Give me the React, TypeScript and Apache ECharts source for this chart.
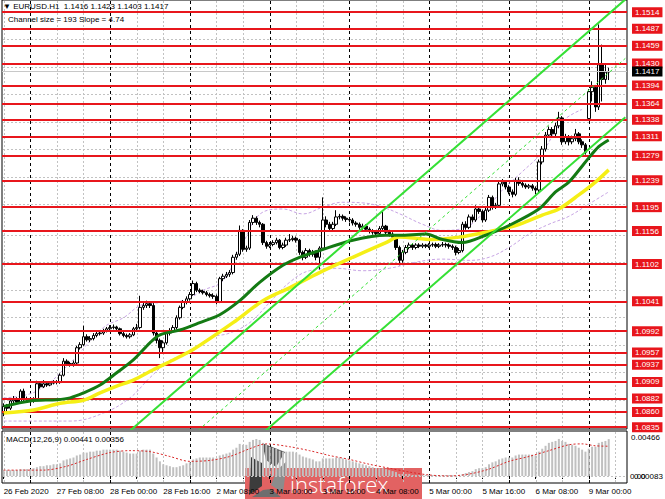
import React, { useEffect, useRef } from "react";
import * as echarts from "echarts";

const FONT = '"Liberation Sans", Arial, sans-serif';
const RED = "#e8161c";

// ---- categories (H1 bars) ----
const DAYS = ["26 Feb", "27 Feb", "28 Feb", "2 Mar", "3 Mar", "4 Mar", "5 Mar", "6 Mar", "9 Mar"];
const categories: string[] = [];
DAYS.forEach((d, di) => {
  const start = di === 0 ? 16 : 0;
  const end = di === DAYS.length - 1 ? 12 : 24;
  for (let h = start; h < end; h++) categories.push(`${d} ${String(h).padStart(2, "0")}:00`);
});

// ---- candles ----
const opens = [
  1.0858, 1.0869, 1.0866, 1.0878, 1.0881, 1.0876, 1.0894, 1.0881, 1.0880, 1.0878,
  1.0881, 1.0906, 1.0901, 1.0906, 1.0904, 1.0907, 1.0909, 1.0908, 1.0920, 1.0943,
  1.0939, 1.0937, 1.0940, 1.0965, 1.0970, 1.0983, 1.0978, 1.0980, 1.0985, 1.0988,
  1.0989, 1.0993, 1.0996, 1.0998, 1.0999, 1.0996, 1.0988, 1.0985, 1.0983, 1.0986,
  1.0996, 1.0998, 1.1031, 1.1034, 1.1037, 1.1034, 1.0989, 1.0977, 1.0965, 1.0973,
  1.0989, 1.0993, 1.0998, 1.1014, 1.1031, 1.1039, 1.1045, 1.1052, 1.1070, 1.1059,
  1.1057, 1.1055, 1.1052, 1.1050, 1.1049, 1.1040, 1.1078, 1.1082, 1.1085, 1.1088,
  1.1113, 1.1118, 1.1157, 1.1126, 1.1128, 1.1170, 1.1177, 1.1170, 1.1167, 1.1137,
  1.1131, 1.1134, 1.1137, 1.1141, 1.1129, 1.1133, 1.1141, 1.1142, 1.1144, 1.1141,
  1.1121, 1.1113, 1.1124, 1.1118, 1.1121, 1.1113, 1.1128, 1.1174, 1.1167, 1.1160,
  1.1167, 1.1179, 1.1180, 1.1177, 1.1175, 1.1174, 1.1169, 1.1167, 1.1162, 1.1164,
  1.1159, 1.1156, 1.1154, 1.1152, 1.1160, 1.1164, 1.1154, 1.1151, 1.1146, 1.1129,
  1.1108, 1.1121, 1.1129, 1.1133, 1.1129, 1.1133, 1.1131, 1.1133, 1.1131, 1.1133,
  1.1134, 1.1131, 1.1133, 1.1134, 1.1133, 1.1131, 1.1129, 1.1121, 1.1124, 1.1167,
  1.1162, 1.1179, 1.1174, 1.1192, 1.1188, 1.1174, 1.1190, 1.1211, 1.1195, 1.1198,
  1.1233, 1.1236, 1.1228, 1.1220, 1.1216, 1.1239, 1.1234, 1.1231, 1.1228, 1.1230,
  1.1226, 1.1223, 1.1269, 1.1290, 1.1313, 1.1322, 1.1315, 1.1328, 1.1341, 1.1302,
  1.1310, 1.1302, 1.1307, 1.1315, 1.1302, 1.1297, 1.1340, 1.1384, 1.1391, 1.1359,
  1.1428, 1.1404, 1.1416,
];
const closes = [
  1.0869, 1.0866, 1.0878, 1.0881, 1.0876, 1.0894, 1.0881, 1.0880, 1.0878, 1.0881,
  1.0906, 1.0901, 1.0906, 1.0904, 1.0907, 1.0909, 1.0908, 1.0920, 1.0943, 1.0939,
  1.0937, 1.0940, 1.0965, 1.0970, 1.0983, 1.0978, 1.0980, 1.0985, 1.0988, 1.0989,
  1.0993, 1.0996, 1.0998, 1.0999, 1.0996, 1.0988, 1.0985, 1.0983, 1.0986, 1.0996,
  1.0998, 1.1031, 1.1034, 1.1037, 1.1034, 1.0989, 1.0977, 1.0965, 1.0973, 1.0989,
  1.0993, 1.0998, 1.1014, 1.1031, 1.1039, 1.1045, 1.1052, 1.1070, 1.1059, 1.1057,
  1.1055, 1.1052, 1.1050, 1.1049, 1.1040, 1.1078, 1.1082, 1.1085, 1.1088, 1.1113,
  1.1118, 1.1157, 1.1126, 1.1128, 1.1170, 1.1177, 1.1170, 1.1167, 1.1137, 1.1131,
  1.1134, 1.1137, 1.1141, 1.1129, 1.1133, 1.1141, 1.1142, 1.1144, 1.1141, 1.1121,
  1.1113, 1.1124, 1.1118, 1.1121, 1.1113, 1.1128, 1.1174, 1.1167, 1.1160, 1.1167,
  1.1179, 1.1180, 1.1177, 1.1175, 1.1174, 1.1169, 1.1167, 1.1162, 1.1164, 1.1159,
  1.1156, 1.1154, 1.1152, 1.1160, 1.1164, 1.1154, 1.1151, 1.1146, 1.1129, 1.1108,
  1.1121, 1.1129, 1.1133, 1.1129, 1.1133, 1.1131, 1.1133, 1.1131, 1.1133, 1.1134,
  1.1131, 1.1133, 1.1134, 1.1133, 1.1131, 1.1129, 1.1121, 1.1124, 1.1167, 1.1162,
  1.1179, 1.1174, 1.1192, 1.1188, 1.1174, 1.1190, 1.1211, 1.1195, 1.1198, 1.1233,
  1.1236, 1.1228, 1.1220, 1.1216, 1.1239, 1.1234, 1.1231, 1.1228, 1.1230, 1.1226,
  1.1223, 1.1269, 1.1290, 1.1313, 1.1322, 1.1315, 1.1328, 1.1341, 1.1302, 1.1310,
  1.1302, 1.1307, 1.1315, 1.1302, 1.1297, 1.1285, 1.1384, 1.1391, 1.1359, 1.1428,
  1.1404, 1.1416, 1.1417,
];
const highs = [
  1.0874, 1.0873, 1.0882, 1.0886, 1.0884, 1.0897, 1.0898, 1.0885, 1.0884, 1.0884,
  1.0911, 1.0909, 1.0912, 1.0909, 1.0910, 1.0912, 1.0912, 1.0923, 1.0948, 1.0946,
  1.0942, 1.0944, 1.0968, 1.0974, 1.1001, 1.0987, 1.0984, 1.0989, 1.0991, 1.0993,
  1.0996, 1.0999, 1.1002, 1.1003, 1.1001, 1.0998, 1.0991, 1.0988, 1.0989, 1.0999,
  1.1004, 1.1050, 1.1040, 1.1042, 1.1041, 1.1038, 1.0993, 1.0980, 1.0977, 1.0992,
  1.0997, 1.1002, 1.1018, 1.1034, 1.1043, 1.1049, 1.1056, 1.1075, 1.1073, 1.1062,
  1.1060, 1.1058, 1.1055, 1.1054, 1.1052, 1.1081, 1.1086, 1.1089, 1.1092, 1.1117,
  1.1122, 1.1165, 1.1159, 1.1132, 1.1174, 1.1182, 1.1180, 1.1173, 1.1169, 1.1140,
  1.1138, 1.1141, 1.1145, 1.1143, 1.1137, 1.1145, 1.1151, 1.1148, 1.1147, 1.1143,
  1.1124, 1.1128, 1.1127, 1.1125, 1.1124, 1.1131, 1.1211, 1.1180, 1.1171, 1.1171,
  1.1190, 1.1184, 1.1183, 1.1180, 1.1179, 1.1177, 1.1172, 1.1170, 1.1168, 1.1167,
  1.1162, 1.1159, 1.1157, 1.1164, 1.1188, 1.1166, 1.1158, 1.1154, 1.1149, 1.1132,
  1.1125, 1.1133, 1.1137, 1.1136, 1.1136, 1.1136, 1.1136, 1.1135, 1.1136, 1.1137,
  1.1137, 1.1136, 1.1138, 1.1137, 1.1136, 1.1134, 1.1132, 1.1128, 1.1171, 1.1172,
  1.1183, 1.1183, 1.1198, 1.1196, 1.1191, 1.1194, 1.1215, 1.1214, 1.1202, 1.1237,
  1.1241, 1.1239, 1.1231, 1.1224, 1.1243, 1.1244, 1.1237, 1.1234, 1.1233, 1.1233,
  1.1229, 1.1273, 1.1295, 1.1318, 1.1327, 1.1326, 1.1333, 1.1351, 1.1344, 1.1315,
  1.1313, 1.1312, 1.1323, 1.1318, 1.1306, 1.1300, 1.1388, 1.1401, 1.1395, 1.1494,
  1.1461, 1.1430, 1.1423,
];
const lows = [
  1.0853, 1.0861, 1.0863, 1.0874, 1.0872, 1.0873, 1.0878, 1.0876, 1.0874, 1.0875,
  1.0879, 1.0898, 1.0899, 1.0901, 1.0902, 1.0905, 1.0905, 1.0906, 1.0918, 1.0936,
  1.0934, 1.0934, 1.0938, 1.0962, 1.0968, 1.0975, 1.0974, 1.0977, 1.0982, 1.0985,
  1.0986, 1.0990, 1.0993, 1.0995, 1.0992, 1.0985, 1.0982, 1.0980, 1.0980, 1.0984,
  1.0993, 1.0995, 1.1027, 1.1030, 1.1030, 1.0985, 1.0972, 1.0948, 1.0958, 1.0970,
  1.0985, 1.0990, 1.0995, 1.1011, 1.1028, 1.1036, 1.1042, 1.1050, 1.1056, 1.1054,
  1.1052, 1.1049, 1.1047, 1.1045, 1.1036, 1.1038, 1.1074, 1.1079, 1.1081, 1.1085,
  1.1109, 1.1115, 1.1122, 1.1122, 1.1125, 1.1166, 1.1166, 1.1162, 1.1133, 1.1127,
  1.1128, 1.1131, 1.1134, 1.1126, 1.1126, 1.1130, 1.1138, 1.1139, 1.1137, 1.1117,
  1.1108, 1.1110, 1.1114, 1.1114, 1.1108, 1.1093, 1.1125, 1.1162, 1.1155, 1.1156,
  1.1164, 1.1175, 1.1173, 1.1171, 1.1170, 1.1165, 1.1163, 1.1158, 1.1158, 1.1155,
  1.1152, 1.1150, 1.1148, 1.1149, 1.1157, 1.1150, 1.1147, 1.1142, 1.1125, 1.1100,
  1.1104, 1.1118, 1.1126, 1.1125, 1.1126, 1.1128, 1.1128, 1.1128, 1.1128, 1.1130,
  1.1128, 1.1128, 1.1130, 1.1129, 1.1127, 1.1125, 1.1116, 1.1118, 1.1121, 1.1158,
  1.1159, 1.1170, 1.1171, 1.1184, 1.1170, 1.1171, 1.1187, 1.1191, 1.1192, 1.1196,
  1.1229, 1.1224, 1.1216, 1.1211, 1.1213, 1.1230, 1.1227, 1.1225, 1.1225, 1.1222,
  1.1216, 1.1220, 1.1265, 1.1286, 1.1309, 1.1310, 1.1311, 1.1324, 1.1297, 1.1298,
  1.1296, 1.1298, 1.1303, 1.1298, 1.1292, 1.1281, 1.1338, 1.1368, 1.1351, 1.1354,
  1.1368, 1.1397, 1.1403,
];

// ---- moving averages (bar index, price) ----
const maGreen = [
  [0, 1.0869], [8, 1.0878], [16, 1.0880], [20, 1.0883], [24, 1.0891], [29, 1.0904], [34, 1.0924],
  [39, 1.0945], [44, 1.0973], [47, 1.0986], [53, 1.0994], [59, 1.1006], [65, 1.1019], [71, 1.1042],
  [77, 1.1072], [84, 1.1100], [89, 1.1113], [95, 1.1124], [105, 1.1141], [115, 1.1149], [119, 1.1149],
  [127, 1.1151], [132, 1.1142], [138, 1.1137], [145, 1.1149], [152, 1.1165], [161, 1.1192],
  [166, 1.1220], [170, 1.1236], [175, 1.1269], [179, 1.1294], [182, 1.1305],
];
const maYellow = [
  [0, 1.0858], [9, 1.0863], [17, 1.0874], [24, 1.0879], [29, 1.0891], [34, 1.0902], [39, 1.0912],
  [45, 1.0929], [51, 1.0945], [57, 1.0962], [69, 1.1006], [78, 1.1042], [86, 1.1063], [95, 1.1088],
  [105, 1.1113], [115, 1.1137], [119, 1.1146], [129, 1.1142], [137, 1.1146], [145, 1.1154],
  [154, 1.1165], [162, 1.1182], [167, 1.1192], [173, 1.1215], [178, 1.1236], [182, 1.1256],
];
const bandUpper = [
  [0, 1.0883], [10, 1.0894], [20, 1.0940], [30, 1.0998], [36, 1.1014], [42, 1.1036], [48, 1.1039],
  [54, 1.1042], [60, 1.1059], [66, 1.1075], [72, 1.1137], [78, 1.1187], [84, 1.1192], [90, 1.1184],
  [96, 1.1195], [102, 1.1203], [108, 1.1202], [114, 1.1195], [120, 1.1182], [126, 1.1167],
  [132, 1.1157], [138, 1.1160], [144, 1.1184], [150, 1.1223], [156, 1.1253], [162, 1.1285],
  [168, 1.1335], [174, 1.1355],
];
const bandLower = [
  [0, 1.0845], [10, 1.0845], [20, 1.0845], [30, 1.0858], [38, 1.0883], [44, 1.0916], [50, 1.0944],
  [56, 1.0957], [62, 1.0981], [68, 1.0989], [74, 1.1006], [80, 1.1039], [86, 1.1072], [92, 1.1091],
  [100, 1.1095], [108, 1.1091], [116, 1.1095], [124, 1.1105], [132, 1.1110], [140, 1.1108],
  [146, 1.1113], [152, 1.1129], [158, 1.1151], [164, 1.1167], [170, 1.1180], [176, 1.1200],
  [182, 1.1220],
];

// ---- channel (upper, middle, lower) endpoints ----
const channelX = [0, 187];
const channelUpper = [1.0649, 1.1535];
const channelMiddle = [1.05525, 1.14385];
const channelLower = [1.0456, 1.1342];

// ---- levels & price scale ----
const redLevels = [
  1.1514, 1.1487, 1.1459, 1.143, 1.1394, 1.1364, 1.1338, 1.1311, 1.1279, 1.1239, 1.1195,
  1.1156, 1.1102, 1.1041, 1.0992, 1.0957, 1.0937, 1.0909, 1.0882, 1.086, 1.0835,
];
const priceTicks = [
  1.147, 1.1425, 1.138, 1.1335, 1.129, 1.1245, 1.12, 1.115, 1.1105, 1.106, 1.1015, 1.097, 1.0925, 1.088,
];
// tick labels that are not fully covered by level labels
const priceTickLabels = [
  "1.1470", "", "1.1380", "", "1.1290", "1.1245", "", "1.1150", "", "1.1060", "1.1015", "1.0970", "1.0925", "",
];
const bidPrice = 1.1417;

// ---- MACD ----
const macdHist = [
  0.0007, 0.0007, 0.0007, 0.0007, 0.0007, 0.00082, 0.00082, 0.00082, 0.00082, 0.00093,
  0.00105, 0.00117, 0.00117, 0.00128, 0.00128, 0.0014, 0.0014, 0.00151, 0.00186, 0.00198,
  0.0021, 0.00221, 0.00245, 0.00256, 0.0028, 0.0028, 0.00291, 0.00291, 0.00303, 0.00303,
  0.00315, 0.00315, 0.00315, 0.00315, 0.00315, 0.00303, 0.00291, 0.0028, 0.00268, 0.00268,
  0.00268, 0.00303, 0.00315, 0.00315, 0.00315, 0.00268, 0.00221, 0.00175, 0.0014, 0.00128,
  0.00117, 0.00105, 0.00105, 0.00117, 0.00128, 0.00151, 0.00163, 0.00198, 0.0021, 0.00221,
  0.00221, 0.00221, 0.00221, 0.00221, 0.0021, 0.00245, 0.00256, 0.00268, 0.0028, 0.00315,
  0.00338, 0.00384, 0.00373, 0.00373, 0.00408, 0.00431, 0.00443, 0.00431, 0.00396, 0.00373,
  0.0035, 0.00338, 0.00326, 0.00303, 0.00291, 0.00291, 0.00291, 0.00291, 0.0028, 0.00256,
  0.00233, 0.00221, 0.0021, 0.00198, 0.00175, 0.00175, 0.0021, 0.0021, 0.0021, 0.0021,
  0.00221, 0.00221, 0.0021, 0.00198, 0.00186, 0.00175, 0.00163, 0.00151, 0.0014, 0.00128,
  0.00117, 0.00105, 0.00093, 0.00093, 0.00093, 0.00082, 0.0007, 0.00058, 0.00047, 0.00023,
  0.00023, 0.00023, 0.00023, 0.00012, 0.00012, 0.00012, 0.00012, 0.00012, 0.00012, 0.00012,
  0.00012, 0.00012, 0.00012, 0.00012, 0.00012, 0.0001, 0.00004, 0.00006, 0.00023, 0.00035,
  0.00047, 0.00058, 0.00082, 0.00093, 0.00093, 0.00105, 0.0014, 0.00163, 0.00175, 0.00198,
  0.0021, 0.00221, 0.00221, 0.00221, 0.00245, 0.00256, 0.00256, 0.00256, 0.00256, 0.00256,
  0.00245, 0.00291, 0.00326, 0.00361, 0.00396, 0.00408, 0.00419, 0.00443, 0.00419, 0.00408,
  0.00384, 0.00373, 0.00361, 0.00338, 0.00315, 0.00291, 0.00326, 0.0035, 0.0035, 0.00396,
  0.00408, 0.00419, 0.00441,
];
const macdSignal = [
  [0, 0.0007], [12, 0.0007], [19, 0.00117], [25, 0.00198], [32, 0.0028], [38, 0.00303], [44, 0.00291],
  [50, 0.00233], [56, 0.00175], [62, 0.00186], [68, 0.00233], [74, 0.00326], [79, 0.00384],
  [86, 0.0035], [92, 0.00303], [98, 0.00245], [104, 0.00198], [110, 0.0014], [116, 0.00093],
  [122, 0.00047], [128, 0.00012], [134, 0.0], [140, 0.00023], [146, 0.00082], [152, 0.00175],
  [158, 0.00233], [164, 0.00303], [170, 0.00373], [174, 0.00384], [178, 0.00361], [182, 0.00356],
];

const isGridBar = (i: number) => i % 8 === 0 && (i - 8) % 24 !== 0;
const isDayBar = (i: number) => i >= 8 && (i - 8) % 24 === 0;

const GRID_GREY = "#c2c2c2";

// vertical dashed separators built from small filled rects (custom series)
function vGridSeries(xAxisIndex: number, yAxisIndex: number, yMid: number) {
  const data: number[][] = [];
  for (let i = 0; i < categories.length; i++) {
    if (isGridBar(i)) data.push([i, yMid, 0]);
    if (isDayBar(i)) data.push([i, yMid, 1]);
  }
  return {
    type: "custom",
    xAxisIndex,
    yAxisIndex,
    data,
    dimensions: ["x", "y", "k"],
    encode: { x: 0, y: 1 },
    z: 1,
    silent: true,
    clip: false,
    renderItem: (params: any, api: any) => {
      const cs = params.coordSys;
      const x = Math.round(api.coord([api.value(0), api.value(1)])[0]);
      const day = api.value(2) === 1;
      const on = day ? 3 : 2;
      const period = day ? 6 : 4;
      const fill = day ? "#000" : GRID_GREY;
      const children: any[] = [];
      const bottom = cs.y + cs.height;
      for (let y = cs.y + 1; y < bottom; y += period) {
        children.push({
          type: "rect",
          shape: { x, y, width: 1, height: Math.min(on, bottom - y) },
          style: { fill },
        });
      }
      return { type: "group", children };
    },
  };
}

// horizontal dotted grid built from small filled rects (custom series)
function hGridSeries(xAxisIndex: number, yAxisIndex: number, values: number[]) {
  return {
    type: "custom",
    xAxisIndex,
    yAxisIndex,
    data: values.map((v) => [0, v]),
    dimensions: ["x", "y"],
    encode: { x: 0, y: 1 },
    z: 1,
    silent: true,
    clip: false,
    renderItem: (params: any, api: any) => {
      const cs = params.coordSys;
      const y = Math.round(api.coord([api.value(0), api.value(1)])[1]);
      const children: any[] = [];
      const right = cs.x + cs.width;
      for (let x = cs.x + 1; x < right; x += 4) {
        children.push({
          type: "rect",
          shape: { x, y, width: Math.min(2, right - x), height: 1 },
          style: { fill: GRID_GREY },
        });
      }
      return { type: "group", children };
    },
  };
}

function buildOption() {
  const candleData = opens.map((o, i) => [o, closes[i], lows[i], highs[i]]);
  const lbl = (v: any) => Number(v.value).toFixed(4);

  return {
    animation: false,
    backgroundColor: "#fff",
    textStyle: { fontFamily: FONT },
    grid: [
      { left: 2, right: 38, top: 0, height: 429, show: true, borderColor: "#000", borderWidth: 1 },
      { left: 2, right: 38, top: 431, height: 52, show: true, borderColor: "#000", borderWidth: 1 },
    ],
    xAxis: [
      { type: "category", gridIndex: 0, data: categories, boundaryGap: true, show: false },
      {
        type: "category",
        gridIndex: 1,
        data: categories,
        boundaryGap: true,
        axisLine: { show: false },
        axisTick: {
          show: true,
          alignWithLabel: true,
          interval: (i: number) => i % 8 === 0,
          length: 3,
          lineStyle: { color: "#000" },
        },
        axisLabel: {
          interval: (i: number) => i % 16 === 0,
          formatter: (v: string, i: number) => (i === 0 ? "26 Feb 2020" : v),
          align: "left",
          fontSize: 8,
          color: "#000",
          margin: 4,
          fontFamily: FONT,
          hideOverlap: false,
        },
        splitLine: { show: false },
      },
    ],
    yAxis: [
      { type: "value", gridIndex: 0, min: 1.0832, max: 1.1534, show: false, splitLine: { show: false } },
      { type: "value", gridIndex: 1, min: -0.00084, max: 0.00538, show: false, splitLine: { show: false } },
    ],
    series: [
      vGridSeries(0, 0, 1.12),
      vGridSeries(1, 1, 0.002),
      hGridSeries(0, 0, priceTicks),
      hGridSeries(1, 1, [0]),
      {
        name: "tickLabels",
        type: "line",
        xAxisIndex: 0,
        yAxisIndex: 0,
        data: [],
        z: 2,
        silent: true,
        markLine: {
          symbol: ["none", "none"],
          silent: true,
          precision: 4,
          lineStyle: { opacity: 0, width: 0 },
          label: { show: true, position: "end", distance: 7, color: "#000", fontSize: 8, fontFamily: FONT, formatter: lbl },
          data: priceTicks.map((v, k) => ({
            yAxis: v,
            label: priceTickLabels[k] ? { show: true } : { show: false },
          })),
        },
      },
      {
        name: "bandU",
        type: "line",
        xAxisIndex: 0,
        yAxisIndex: 0,
        data: bandUpper,
        smooth: 0.4,
        showSymbol: false,
        z: 3,
        silent: true,
        lineStyle: { color: "#c7a4e4", width: 1, type: [3, 2] },
      },
      {
        name: "bandL",
        type: "line",
        xAxisIndex: 0,
        yAxisIndex: 0,
        data: bandLower,
        smooth: 0.4,
        showSymbol: false,
        z: 3,
        silent: true,
        lineStyle: { color: "#c7a4e4", width: 1, type: [3, 2] },
      },
      {
        name: "levels",
        type: "line",
        xAxisIndex: 0,
        yAxisIndex: 0,
        data: [],
        z: 3,
        silent: true,
        markLine: {
          symbol: ["none", "none"],
          silent: true,
          precision: 4,
          lineStyle: { color: RED, type: "solid", width: 2 },
          label: {
            show: true,
            position: "end",
            distance: 5,
            color: "#fff",
            backgroundColor: RED,
            padding: [1, 3, 0, 3],
            fontSize: 8,
            lineHeight: 9,
            fontFamily: FONT,
            formatter: lbl,
          },
          data: [
            ...redLevels.map((v) => ({ yAxis: v })),
            {
              yAxis: bidPrice,
              lineStyle: { color: "#c8c8c8", type: "solid", width: 1 },
              label: { backgroundColor: "#000" },
            },
          ],
        },
      },
      {
        name: "EURUSD",
        type: "candlestick",
        xAxisIndex: 0,
        yAxisIndex: 0,
        data: candleData,
        barWidth: 3,
        z: 4,
        silent: true,
        itemStyle: { color: "#fff", color0: "#000", borderColor: "#000", borderColor0: "#000", borderWidth: 1 },
      },
      {
        name: "MA slow",
        type: "line",
        xAxisIndex: 0,
        yAxisIndex: 0,
        data: maYellow,
        smooth: 0.3,
        showSymbol: false,
        z: 5,
        silent: true,
        lineStyle: { color: "#f5ef16", width: 3.5 },
      },
      {
        name: "MA fast",
        type: "line",
        xAxisIndex: 0,
        yAxisIndex: 0,
        data: maGreen,
        smooth: 0.3,
        showSymbol: false,
        z: 5,
        silent: true,
        lineStyle: { color: "#137a13", width: 3 },
      },
      {
        name: "chU",
        type: "line",
        xAxisIndex: 0,
        yAxisIndex: 0,
        data: channelX.map((x, k) => [x, channelUpper[k]]),
        showSymbol: false,
        z: 6,
        silent: true,
        clip: true,
        lineStyle: { color: "#35e035", width: 2 },
      },
      {
        name: "chM",
        type: "line",
        xAxisIndex: 0,
        yAxisIndex: 0,
        data: channelX.map((x, k) => [x, channelMiddle[k]]),
        showSymbol: false,
        z: 6,
        silent: true,
        clip: true,
        lineStyle: { color: "#35e035", width: 1, type: [3, 3] },
      },
      {
        name: "chL",
        type: "line",
        xAxisIndex: 0,
        yAxisIndex: 0,
        data: channelX.map((x, k) => [x, channelLower[k]]),
        showSymbol: false,
        z: 6,
        silent: true,
        clip: true,
        lineStyle: { color: "#35e035", width: 2 },
      },
      {
        name: "MACD",
        type: "bar",
        xAxisIndex: 1,
        yAxisIndex: 1,
        data: macdHist,
        barWidth: 2,
        z: 3,
        silent: true,
        itemStyle: { color: "#c0c0c0" },
      },
      {
        name: "Signal",
        type: "line",
        xAxisIndex: 1,
        yAxisIndex: 1,
        data: macdSignal,
        smooth: 0.3,
        showSymbol: false,
        z: 4,
        silent: true,
        lineStyle: { color: "#d82828", width: 1, type: [2, 2] },
      },
    ],
    graphic: [
      {
        type: "text",
        x: 3,
        y: 6,
        z: 100,
        style: { text: "▼ EURUSD.H1  1.1416 1.1423 1.1403 1.1417", fill: "#000", font: `8px ${FONT}`, textVerticalAlign: "middle" },
      },
      {
        type: "text",
        x: 8,
        y: 19,
        z: 100,
        style: { text: "Channel size = 193 Slope = 4.74", fill: "#000", font: `8px ${FONT}`, textVerticalAlign: "middle" },
      },
      {
        type: "text",
        x: 6,
        y: 439,
        z: 100,
        style: { text: "MACD(12,26,9) 0.00441 0.00356", fill: "#000", font: `8px ${FONT}`, textVerticalAlign: "middle" },
      },
      {
        type: "text",
        x: 631,
        y: 437,
        z: 100,
        style: { text: "0.00466", fill: "#000", font: `8px ${FONT}`, textVerticalAlign: "middle" },
      },
      {
        type: "text",
        x: 630,
        y: 476,
        z: 100,
        style: { text: "0.00", fill: "#000", font: `8px ${FONT}`, textVerticalAlign: "middle" },
      },
      {
        type: "text",
        x: 634,
        y: 476,
        z: 100,
        style: { text: "0.00083", fill: "#000", font: `8px ${FONT}`, textVerticalAlign: "middle" },
      },
      {
        type: "group",
        z: 200,
        children: [
          { type: "rect", shape: { x: 245, y: 468, width: 177, height: 31 }, style: { fill: "#e26262" } },
          {
            type: "text",
            x: 290,
            y: 484,
            style: { text: "instaforex", fill: "#fff", font: `300 22px "Open Sans", ${FONT}`, textVerticalAlign: "middle" },
          },
          { type: "polygon", shape: { points: [[262, 443], [285, 452], [276, 467], [266, 460]] }, style: { fill: "#555" } },
          { type: "polygon", shape: { points: [[287, 461], [283, 493], [271, 485], [277, 470]] }, style: { fill: "#8c8c8c" } },
          { type: "polygon", shape: { points: [[249, 495], [251, 457], [262, 463], [262, 486]] }, style: { fill: "#3c3c3c" } },
          { type: "polygon", shape: { points: [[252, 497], [281, 497], [271, 489], [263, 490]] }, style: { fill: "#6e6e6e" } },
        ],
      },
    ],
  };
}

export default function App() {
  const ref = useRef<HTMLDivElement>(null);
  useEffect(() => {
    if (!ref.current) return;
    const chart = echarts.init(ref.current, null, { renderer: "svg" });
    chart.setOption(buildOption() as any);
    return () => chart.dispose();
  }, []);
  return (
    <div
      ref={ref}
      style={{ position: "absolute", left: 0, top: 0, width: 665, height: 499, background: "#fff" }}
    />
  );
}
